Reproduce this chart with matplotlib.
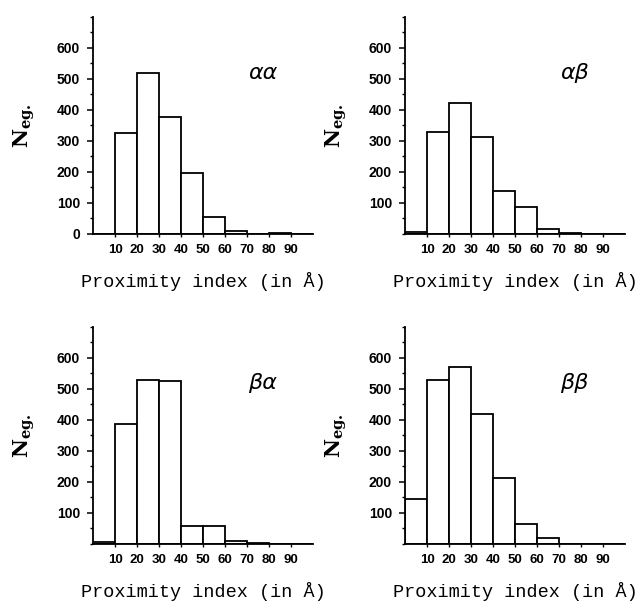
import numpy as np
import matplotlib.pyplot as plt
from matplotlib.ticker import MultipleLocator

plt.rcParams["mathtext.fontset"] = "dejavuserif"

# bin edges (Angstrom) and counts
bin_left = [0, 10, 20, 30, 40, 50, 60, 70, 80, 90]
counts_aa = [1, 325, 518, 378, 195, 55, 10, 1, 2, 1]
counts_ab = [5, 328, 423, 312, 140, 87, 17, 3, 1, 1]
counts_ba = [5, 388, 528, 525, 57, 57, 10, 2, 1, 1]
counts_bb = [145, 530, 572, 420, 213, 63, 20, 1, 1, 1]
panel_names = ["αα", "αβ", "βα", "ββ"]
xtick_vals = [10, 20, 30, 40, 50, 60, 70, 80, 90]

fig = plt.figure(figsize=(6.38, 6.03), dpi=100)

# axes boxes in figure fractions (left, bottom, width, height)
boxes = [
    (0.146, 0.612, 0.345, 0.36),
    (0.635, 0.612, 0.345, 0.36),
    (0.146, 0.098, 0.345, 0.36),
    (0.635, 0.098, 0.345, 0.36),
]
all_counts = [counts_aa, counts_ab, counts_ba, counts_bb]

for i, (box, counts, name) in enumerate(zip(boxes, all_counts, panel_names)):
    ax = fig.add_axes(box)
    ax.bar(bin_left, counts, width=10, align="edge",
           facecolor="white", edgecolor="black", linewidth=1.3)
    ax.set_xlim(0, 100)
    ax.set_ylim(0, 700)

    ax.spines["top"].set_visible(False)
    ax.spines["right"].set_visible(False)
    ax.spines["left"].set_linewidth(1.3)
    ax.spines["bottom"].set_linewidth(1.3)

    ax.set_xticks(xtick_vals)
    if i == 0:
        ax.set_yticks([0, 100, 200, 300, 400, 500, 600])
    else:
        ax.set_yticks([100, 200, 300, 400, 500, 600])
    ax.yaxis.set_minor_locator(MultipleLocator(50))
    ax.tick_params(axis="y", which="major", direction="out", length=4.5, width=1.1, pad=5)
    ax.tick_params(axis="y", which="minor", direction="out", length=2.5, width=1.0)
    ax.tick_params(axis="x", which="major", direction="out", length=2.5, width=1.0, pad=4.5)
    for lab in ax.get_yticklabels():
        lab.set_fontfamily("Liberation Sans")
        lab.set_fontweight("bold")
        lab.set_fontsize(10)
    for lab in ax.get_xticklabels():
        lab.set_fontfamily("Liberation Sans")
        lab.set_fontweight("bold")
        lab.set_fontsize(9.5)

    ax.set_xlabel("Proximity index (in Å)", fontfamily="Liberation Mono",
                  fontsize=13.3, labelpad=12)
    ax.set_ylabel(r"$\mathbf{N}_{\mathbf{eg.}}$", fontsize=15, labelpad=14)
    ax.text(77, 520, name, fontsize=16, fontfamily="DejaVu Sans",
            style="italic", ha="center", va="center")

fig.savefig("out.png", dpi=100)
